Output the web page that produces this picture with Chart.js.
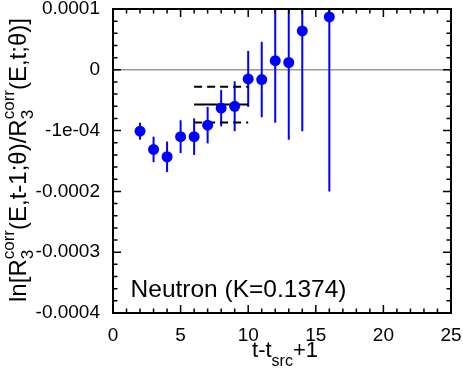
<!DOCTYPE html>
<html>
<head>
<meta charset="utf-8">
<script src="https://cdn.jsdelivr.net/npm/chart.js@4/dist/chart.umd.min.js"></script>
<style>
  html, body { margin: 0; padding: 0; background: #fff; }
  #wrap { width: 463px; height: 369px; }
</style>
</head>
<body>
<div id="wrap"><canvas id="plot"></canvas></div>
<script>
// values
const tVals = [2, 3, 4, 5, 6, 7, 8, 9, 10, 11, 12, 13, 14, 16];
const ratioVals = [-1.01e-4, -1.31e-4, -1.43e-4, -1.10e-4, -1.10e-4, -0.91e-4, -0.63e-4,
                   -0.60e-4, -0.15e-4, -0.16e-4, 0.15e-4, 0.12e-4, 0.64e-4, 0.87e-4];
const ratioErrs = [0.14e-4, 0.21e-4, 0.25e-4, 0.27e-4, 0.30e-4, 0.30e-4, 0.30e-4,
                   0.41e-4, 0.46e-4, 0.62e-4, 1.02e-4, 1.27e-4, 1.65e-4, 2.87e-4];
const fitRange = [6, 10];
const fitValue = -0.572e-4;
const fitError = 0.295e-4;
const xTickStep = 5;
const yTickValues = [-0.0004, -0.0003, -0.0002, -0.0001, 0, 0.0001];
const yTickLabels = ['-0.0004', '-0.0003', '-0.0002', '-1e-04', '0', '0.0001'];
const labelText = 'Neutron (K=0.1374)';

const font = "'Liberation Sans', Arial, Helvetica, sans-serif";
const blue = '#0000ff';

const yTitle = [
  { t: 'ln[R' }, { sub: '3', sup: 'corr' },
  { t: '(E,t-1;\u03b8)/R' }, { sub: '3', sup: 'corr' },
  { t: '(E,t;\u03b8)]' }
];
const xTitle = [{ t: 't-t' }, { sub: 'src' }, { t: '+1' }];

function partWidth(ctx, p, big, small) {
  if (p.t !== undefined) { ctx.font = big + 'px ' + font; return ctx.measureText(p.t).width; }
  ctx.font = small + 'px ' + font;
  return Math.max(p.sub ? ctx.measureText(p.sub).width : 0, p.sup ? ctx.measureText(p.sup).width : 0);
}
function drawRich(ctx, parts, big, small, subDy, supDy) {
  let x = 0;
  ctx.textAlign = 'left';
  ctx.textBaseline = 'alphabetic';
  for (const p of parts) {
    const w = partWidth(ctx, p, big, small);
    if (p.t !== undefined) ctx.fillText(p.t, x, 0);
    if (p.sub) ctx.fillText(p.sub, x, subDy);
    if (p.sup) ctx.fillText(p.sup, x, supDy);
    x += w;
  }
  return x;
}

const extras = {
  id: 'extras',
  beforeDatasetsDraw(chart) {
    const ctx = chart.ctx, a = chart.chartArea, sx = chart.scales.x, sy = chart.scales.y;
    ctx.save();
    ctx.strokeStyle = '#9a9a9a';
    ctx.lineWidth = 1.5;
    ctx.beginPath();
    ctx.moveTo(a.left, sy.getPixelForValue(0));
    ctx.lineTo(a.right, sy.getPixelForValue(0));
    ctx.stroke();
    ctx.restore();

    ctx.save();
    ctx.beginPath();
    ctx.rect(a.left, a.top, a.right - a.left, a.bottom - a.top);
    ctx.clip();
    ctx.strokeStyle = blue;
    ctx.lineWidth = 2;
    tVals.forEach((t, i) => {
      const px = sx.getPixelForValue(t);
      ctx.beginPath();
      ctx.moveTo(px, sy.getPixelForValue(ratioVals[i] - ratioErrs[i]));
      ctx.lineTo(px, sy.getPixelForValue(ratioVals[i] + ratioErrs[i]));
      ctx.stroke();
    });
    ctx.restore();
  },
  afterDatasetsDraw(chart) {
    const ctx = chart.ctx, a = chart.chartArea, sx = chart.scales.x, sy = chart.scales.y;
    ctx.save();
    ctx.strokeStyle = 'rgb(0,0,0)';
    ctx.lineWidth = 2;
    ctx.beginPath();
    ctx.moveTo(a.left, a.top);
    ctx.lineTo(a.right, a.top);
    ctx.lineTo(a.right, a.bottom);
    ctx.lineTo(a.left, a.bottom);
    ctx.closePath();
    ctx.stroke();
    ctx.lineWidth = 1.5;
    for (let v = 0; v <= 25; v++) {
      const px = sx.getPixelForValue(v);
      const len = v % xTickStep === 0 ? 8 : 4.5;
      ctx.beginPath();
      ctx.moveTo(px, a.bottom); ctx.lineTo(px, a.bottom - len);
      ctx.moveTo(px, a.top); ctx.lineTo(px, a.top + len);
      ctx.stroke();
    }
    for (let i = -20; i <= 5; i++) {
      const py = sy.getPixelForValue(i * 2e-5);
      const len = i % 5 === 0 ? 8 : 4.5;
      ctx.beginPath();
      ctx.moveTo(a.left, py); ctx.lineTo(a.left + len, py);
      ctx.moveTo(a.right, py); ctx.lineTo(a.right - len, py);
      ctx.stroke();
    }
    ctx.restore();
  },
  afterDraw(chart) {
    const ctx = chart.ctx, a = chart.chartArea, sx = chart.scales.x, sy = chart.scales.y;
    ctx.save();
    ctx.fillStyle = '#000';
    ctx.font = '24.5px ' + font;
    ctx.textAlign = 'left';
    ctx.textBaseline = 'alphabetic';
    ctx.fillText(labelText, sx.getPixelForValue(1.3), sy.getPixelForValue(-3.74e-4));

    let w = xTitle.reduce((s, p) => s + partWidth(ctx, p, 22, 16), 0);
    ctx.save();
    ctx.translate((a.left + a.right) / 2 + 3 - w / 2, 357);
    drawRich(ctx, xTitle, 22, 16, 9, -10);
    ctx.restore();

    w = yTitle.reduce((s, p) => s + partWidth(ctx, p, 24, 17), 0);
    ctx.save();
    ctx.translate(26, (a.top + a.bottom) / 2 - 1 + w / 2);
    ctx.rotate(-Math.PI / 2);
    drawRich(ctx, yTitle, 24, 17, 7, -12);
    ctx.restore();
    ctx.restore();
  }
};

function fitLine(val, dash) {
  return {
    data: [{ x: fitRange[0], y: val }, { x: fitRange[1], y: val }],
    showLine: true,
    borderColor: '#000',
    borderWidth: 2,
    borderDash: dash,
    pointRadius: 0
  };
}

new Chart(document.getElementById('plot'), {
  type: 'scatter',
  data: {
    datasets: [
      { data: tVals.map((t, i) => ({ x: t, y: ratioVals[i] })), backgroundColor: blue, borderColor: blue, borderWidth: 0, pointRadius: 5.5 },
      fitLine(fitValue, []),
      fitLine(fitValue + fitError, [8, 5]),
      fitLine(fitValue - fitError, [8, 5])
    ]
  },
  options: {
    animation: false,
    responsive: true,
    maintainAspectRatio: false,
    layout: { padding: { top: 9, right: 12, left: 0, bottom: 0 } },
    plugins: { legend: { display: false }, tooltip: { enabled: false } },
    scales: {
      x: {
        type: 'linear', min: 0, max: 25,
        grid: { display: false },
        border: { display: true, color: '#000', width: 2 },
        ticks: { stepSize: xTickStep, color: '#000', font: { family: font, size: 19 }, padding: 3, maxRotation: 0 },
        afterFit(s) { s.height = 56; s.paddingLeft = 0; s.paddingRight = 0; }
      },
      y: {
        min: -0.0004, max: 0.0001,
        grid: { display: false },
        border: { display: true, color: '#000', width: 2 },
        afterBuildTicks(s) { s.ticks = yTickValues.map(v => ({ value: v })); },
        ticks: { color: '#000', font: { family: font, size: 19 }, padding: 5, callback: (v, i) => yTickLabels[i] },
        afterFit(s) { s.width = 113; s.paddingTop = 0; s.paddingBottom = 0; }
      }
    }
  },
  plugins: [extras]
});
</script>
</body>
</html>
